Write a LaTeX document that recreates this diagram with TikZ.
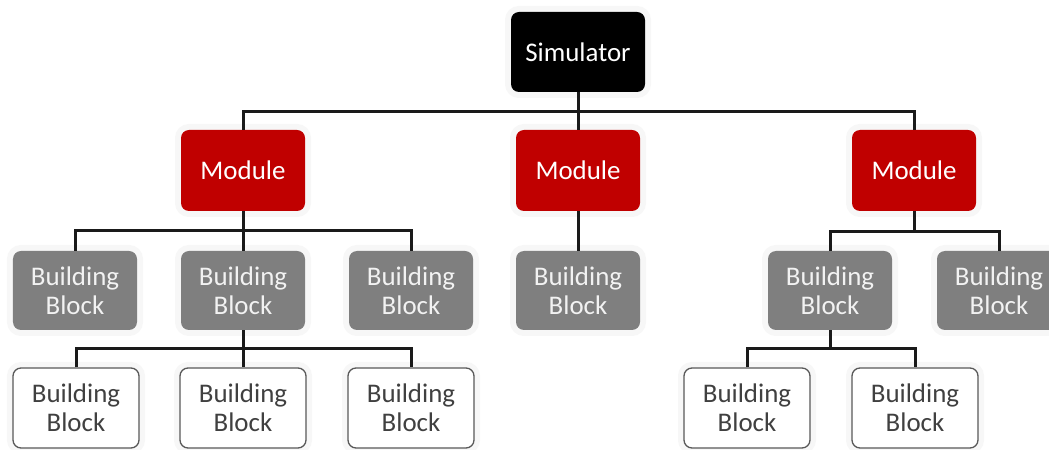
\documentclass[tikz,border=0pt]{standalone}
\usepackage{fontspec}
\setmainfont{Carlito}
\definecolor{simblack}{HTML}{000000}
\definecolor{modred}{HTML}{C00000}
\definecolor{bbgray}{HTML}{7F7F7F}
\definecolor{bbtext}{HTML}{F2F2F2}
\definecolor{leafline}{HTML}{595959}
\definecolor{leaftext}{HTML}{404040}
\definecolor{linkcol}{HTML}{1A1A1A}
\begin{document}
\begin{tikzpicture}[x=1bp,y=-1bp,
  box/.style={rectangle, rounded corners=8bp, inner sep=0pt, align=center,
    font=\fontsize{27}{29}\selectfont,
    preaction={draw=black!3, line width=12bp}},
  simbox/.style={box, fill=simblack, text=white, minimum width=134bp, minimum height=80bp},
  modbox/.style={box, fill=modred, text=white, minimum width=124bp, minimum height=81bp},
  blockbox/.style={box, fill=bbgray, text=bbtext, minimum width=124bp, minimum height=79bp},
  leafbox/.style={box, fill=white, draw=leafline, line width=1.3bp, text=leaftext,
    minimum width=126bp, minimum height=80bp},
  link/.style={draw=linkcol, line width=3bp}]
\useasboundingbox (0,0) rectangle (1049,450);
\clip (0,0) rectangle (1049,450);

% top level
\node[simbox] (sim) at (578,52) {Simulator};

% modules
\node[modbox] (m1) at (243,170.5) {Module};
\node[modbox] (m2) at (578,170.5) {Module};
\node[modbox] (m3) at (914,170.5) {Module};

% building blocks under the modules
\node[blockbox] (b1) at (75,290.5)  {Building\\Block};
\node[blockbox] (b2) at (243,290.5) {Building\\Block};
\node[blockbox] (b3) at (411,290.5) {Building\\Block};
\node[blockbox] (b4) at (578,290.5) {Building\\Block};
\node[blockbox] (b5) at (830,290.5) {Building\\Block};
\node[blockbox] (b6) at (999,290.5) {Building\\Block};

% nested building blocks
\node[leafbox] (l1) at (76,408)  {Building\\Block};
\node[leafbox] (l2) at (243,408) {Building\\Block};
\node[leafbox] (l3) at (411,408) {Building\\Block};
\node[leafbox] (l4) at (747,408) {Building\\Block};
\node[leafbox] (l5) at (915,408) {Building\\Block};

% simulator -> modules
\draw[link] (sim.south) -- (m2.north);
\draw[link] (m1.north) -- (m1.north |- 0,112) -- (m3.north |- 0,112) -- (m3.north);

% module 1 -> blocks
\draw[link] (m1.south) -- (b2.north);
\draw[link] (b1.north) -- (b1.north |- 0,231) -- (b3.north |- 0,231) -- (b3.north);

% module 2 -> block
\draw[link] (m2.south) -- (b4.north);

% module 3 -> blocks
\draw[link] (m3.south) -- (m3.south |- 0,232);
\draw[link] (b5.north) -- (b5.north |- 0,232) -- (b6.north |- 0,232) -- (b6.north);

% block 2 -> nested blocks
\draw[link] (b2.south) -- (l2.north);
\draw[link] (l1.north) -- (l1.north |- 0,349) -- (l3.north |- 0,349) -- (l3.north);

% block 5 -> nested blocks
\draw[link] (b5.south) -- (b5.south |- 0,349);
\draw[link] (l4.north) -- (l4.north |- 0,349) -- (l5.north |- 0,349) -- (l5.north);
\end{tikzpicture}
\end{document}
